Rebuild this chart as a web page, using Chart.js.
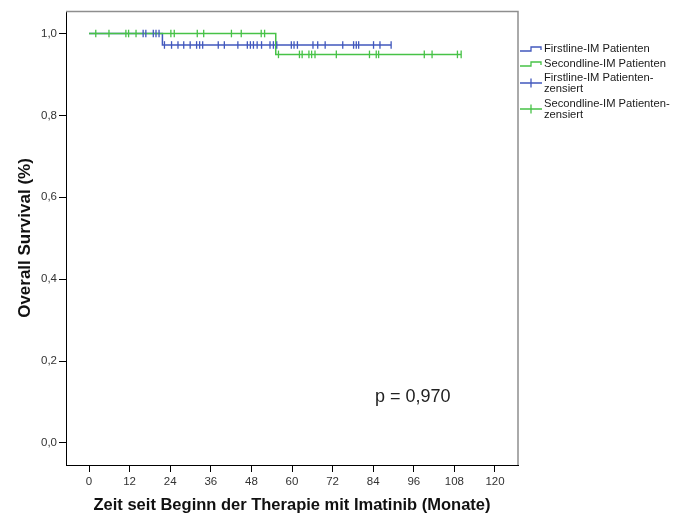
<!DOCTYPE html>
<html lang="de">
<head>
<meta charset="UTF-8">
<title>Overall Survival</title>
<script src="https://cdn.jsdelivr.net/npm/chart.js"></script>
<style>
  html, body { margin: 0; padding: 0; background: #fff; }
  #wrap { width: 675px; height: 515px; }
</style>
</head>
<body>
<div id="wrap"><canvas id="chart" width="675" height="515"></canvas></div>
<script>
// Kaplan-Meier steps (months, survival)
const firstTimes = [0, 21.7, 89.3];
const firstSurv = [1.0, 0.972, 0.972];
const secondTimes = [0, 55.2, 110.0];
const secondSurv = [1.0, 0.949, 0.949];

// censored patients (months)
const firstCensored = [16.0, 16.8, 19.0, 19.8, 20.7,
  22.3, 24.4, 26.3, 28.0, 29.9, 31.8, 32.7, 33.6, 38.2, 40.0, 44.0, 46.8, 47.7, 48.6, 49.7,
  51.0, 53.5, 54.5, 55.5, 59.8, 60.6, 61.6, 66.2, 67.6, 69.8, 75.0, 78.2, 79.0, 79.7,
  84.1, 86.0, 89.3];
const secondCensored = [2.0, 5.9, 10.9, 11.7, 13.9, 24.2, 25.2, 32.0, 33.9, 42.1, 45.0,
  50.9, 51.9, 56.0, 62.2, 63.0, 65.0, 65.8, 66.8, 73.1, 82.9, 84.9, 85.6, 99.1, 101.4,
  108.9, 110.0];

const xTicks = [0, 12, 24, 36, 48, 60, 72, 84, 96, 108, 120];
const yTicks = [0, 0.2, 0.4, 0.6, 0.8, 1.0];
const seriesNames = ['Firstline-IM Patienten', 'Secondline-IM Patienten'];
const pText = 'p = 0,970';

const BLUE = '#4258bd';
const GREEN = '#47c247';
const FONT = '"Liberation Sans", Arial, sans-serif';

function survAt(times, surv, t) {
  let s = surv[0];
  for (let i = 0; i < times.length; i++) if (times[i] <= t) s = surv[i];
  return s;
}
const curve = (times, surv) => times.map((t, i) => ({x: t, y: surv[i]}));
const marks = (cens, times, surv) => cens.map(t => ({x: t, y: survAt(times, surv, t)}));

const frame = {
  id: 'frame',
  beforeDatasetsDraw(chart) {
    const {ctx, chartArea: a} = chart;
    ctx.save();
    ctx.strokeStyle = '#8e8e8e';
    ctx.lineWidth = 1.5;
    ctx.beginPath();
    ctx.moveTo(a.left, a.top + 0.5);
    ctx.lineTo(a.right, a.top + 0.5);
    ctx.lineTo(a.right, a.bottom);
    ctx.stroke();
    ctx.restore();
  },
  afterDraw(chart) {
    const {ctx, chartArea: a, scales} = chart;
    ctx.save();
    // p value
    ctx.fillStyle = '#222';
    ctx.font = '18px ' + FONT;
    ctx.textBaseline = 'middle';
    ctx.textAlign = 'left';
    ctx.fillText(pText, scales.x.getPixelForValue(84.5), scales.y.getPixelForValue(0.112));

    // legend
    const lx = a.right + 2;
    const tx = lx + 24;
    ctx.font = '11.2px ' + FONT;
    ctx.fillStyle = '#1a1a1a';
    ctx.lineWidth = 1.3;
    const step = (y, color) => {
      ctx.strokeStyle = color;
      ctx.beginPath();
      ctx.moveTo(lx, y + 2);
      ctx.lineTo(lx + 11, y + 2);
      ctx.lineTo(lx + 11, y - 2);
      ctx.lineTo(lx + 21, y - 2);
      ctx.lineTo(lx + 21, y + 1);
      ctx.stroke();
    };
    const cross = (y, color) => {
      ctx.strokeStyle = color;
      ctx.beginPath();
      ctx.moveTo(lx, y);
      ctx.lineTo(lx + 22, y);
      ctx.moveTo(lx + 11, y - 4.5);
      ctx.lineTo(lx + 11, y + 4.5);
      ctx.stroke();
    };
    const y0 = a.top;
    step(y0 + 38, BLUE);
    ctx.fillText(seriesNames[0], tx, y0 + 38);
    step(y0 + 53, GREEN);
    ctx.fillText(seriesNames[1], tx, y0 + 53);
    cross(y0 + 72, BLUE);
    ctx.fillText(seriesNames[0] + '-', tx, y0 + 67);
    ctx.fillText('zensiert', tx, y0 + 78);
    cross(y0 + 98, GREEN);
    ctx.fillText(seriesNames[1] + '-', tx, y0 + 93);
    ctx.fillText('zensiert', tx, y0 + 104);
    ctx.restore();
  }
};

const ctx = document.getElementById('chart').getContext('2d');
new Chart(ctx, {
  type: 'scatter',
  data: {
    datasets: [
      {
        label: seriesNames[0],
        data: curve(firstTimes, firstSurv),
        showLine: true, stepped: true,
        borderColor: BLUE, borderWidth: 1.5, pointRadius: 0, order: 3
      },
      {
        label: seriesNames[1],
        data: curve(secondTimes, secondSurv),
        showLine: true, stepped: true,
        borderColor: GREEN, borderWidth: 1.5, pointRadius: 0, order: 2
      },
      {
        label: seriesNames[0] + '-zensiert',
        data: marks(firstCensored, firstTimes, firstSurv),
        pointStyle: 'line', rotation: 90, pointRadius: 3.8,
        borderColor: BLUE, borderWidth: 1.3, order: 1
      },
      {
        label: seriesNames[1] + '-zensiert',
        data: marks(secondCensored, secondTimes, secondSurv),
        pointStyle: 'line', rotation: 90, pointRadius: 3.8,
        borderColor: GREEN, borderWidth: 1.3, order: 0
      }
    ]
  },
  options: {
    responsive: false,
    animation: false,
    events: [],
    layout: { padding: { left: 0, right: 157, top: 11, bottom: 0 } },
    plugins: { legend: { display: false }, tooltip: { enabled: false } },
    scales: {
      x: {
        type: 'linear',
        min: -6.8, max: 126.8,
        afterFit: s => { s.height = 50; },
        afterBuildTicks: s => { s.ticks = xTicks.map(v => ({value: v})); },
        grid: { drawOnChartArea: false, drawTicks: true, tickLength: 7, tickColor: '#000' },
        border: { color: '#000', width: 1 },
        ticks: { color: '#333', font: { family: FONT, size: 11.5 }, padding: 3, maxRotation: 0 },
        title: {
          display: true,
          text: 'Zeit seit Beginn der Therapie mit Imatinib (Monate)',
          color: '#111',
          font: { family: FONT, size: 16.5, weight: 'bold' },
          padding: { top: 0, bottom: 0 }
        }
      },
      y: {
        type: 'linear',
        min: -0.054, max: 1.055,
        afterFit: s => { s.width = 66; },
        afterBuildTicks: s => { s.ticks = yTicks.map(v => ({value: v})); },
        grid: { drawOnChartArea: false, drawTicks: true, tickLength: 7, tickColor: '#000' },
        border: { color: '#000', width: 1 },
        ticks: {
          color: '#333', font: { family: FONT, size: 11.5 }, padding: 2,
          callback: v => v.toFixed(1).replace('.', ',')
        },
        title: {
          display: true,
          text: 'Overall Survival (%)',
          color: '#111',
          font: { family: FONT, size: 17, weight: 'bold' },
          padding: { top: 15, bottom: 0 }
        }
      }
    }
  },
  plugins: [frame]
});
</script>
</body>
</html>
